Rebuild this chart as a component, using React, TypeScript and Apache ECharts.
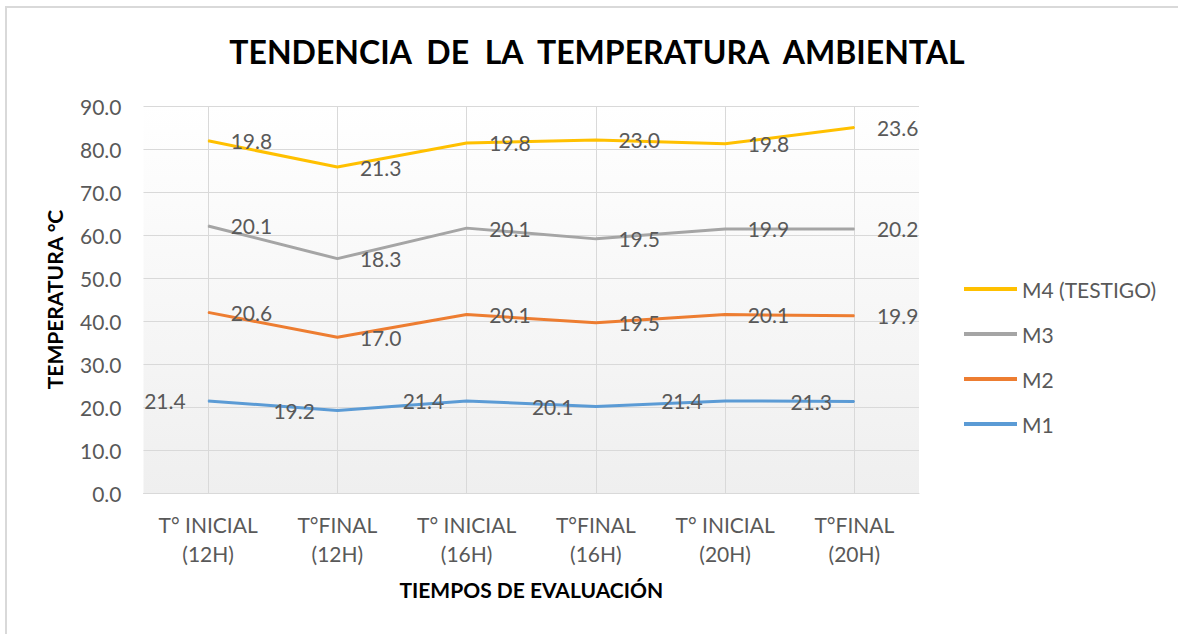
import React, { useEffect, useRef } from "react";
import * as echarts from "echarts";

const categories = [
  "T° INICIAL\n(12H)",
  "T°FINAL\n(12H)",
  "T° INICIAL\n(16H)",
  "T°FINAL\n(16H)",
  "T° INICIAL\n(20H)",
  "T°FINAL\n(20H)",
];
const seriesNames = ["M1", "M2", "M3", "M4 (TESTIGO)"];
const m1 = [21.4, 19.2, 21.4, 20.1, 21.4, 21.3];
const m2 = [20.6, 17.0, 20.1, 19.5, 20.1, 19.9];
const m3 = [20.1, 18.3, 20.1, 19.5, 19.9, 20.2];
const m4 = [19.8, 21.3, 19.8, 23.0, 19.8, 23.6];
const colors = ["#5B9BD5", "#ED7D31", "#A5A5A5", "#FFC000"];
const legendOrder = ["M4 (TESTIGO)", "M3", "M2", "M1"];
const yMin = 0;
const yMax = 90;
const yStep = 10;

const FONT = "Lato";
const GRAY = "#595959";

export default function App() {
  const ref = useRef<HTMLDivElement>(null);
  useEffect(() => {
    if (!ref.current) return;
    const chart = echarts.init(ref.current, null, { renderer: "svg" });
    const values = [m1, m2, m3, m4];
    const series = values.map((v, i) => ({
      name: seriesNames[i],
      type: "line",
      stack: "total",
      data: v,
      symbol: "circle",
      symbolSize: 1,
      showSymbol: true,
      lineStyle: { width: 3, color: colors[i] },
      itemStyle: { color: colors[i] },
      emphasis: { disabled: true },
      label: {
        show: true,
        position: i === 0 ? "left" : "right",
        distance: 22,
        color: GRAY,
        fontFamily: FONT,
        fontSize: 21,
        formatter: (p: any) => Number(p.value).toFixed(1),
      },
      z: 3,
    }));
    chart.setOption({
      animation: false,
      color: colors,
      textStyle: { fontFamily: FONT },
      title: {
        text: "TENDENCIA  DE  LA  TEMPERATURA  AMBIENTAL",
        left: 592,
        textAlign: "center",
        top: 30,
        textStyle: { fontFamily: FONT, fontWeight: "bold", fontSize: 32, color: "#000" },
      },
      graphic: [
        {
          type: "rect",
          shape: { x: 6, y: 7, width: 1300, height: 800 },
          style: { fill: "none", stroke: "#d9d9d9", lineWidth: 2 },
          silent: true,
          z: -10,
        },
      ],
      legend: {
        data: legendOrder,
        orient: "vertical",
        left: 959,
        top: 273,
        icon: "rect",
        itemWidth: 53,
        itemHeight: 4,
        itemGap: 23,
        textStyle: { color: GRAY, fontFamily: FONT, fontSize: 21, lineHeight: 22 },
      },
      grid: {
        left: 143.5,
        right: 259,
        top: 106,
        bottom: 141,
        show: true,
        borderWidth: 0,
        backgroundColor: {
          type: "linear",
          x: 0,
          y: 0,
          x2: 0,
          y2: 1,
          colorStops: [
            { offset: 0, color: "#ffffff" },
            { offset: 1, color: "#efefef" },
          ],
        },
      },
      xAxis: {
        type: "category",
        data: categories,
        boundaryGap: true,
        name: "TIEMPOS DE EVALUACIÓN",
        nameLocation: "middle",
        nameGap: 86,
        nameTextStyle: { fontFamily: FONT, fontWeight: "bold", fontSize: 21, color: "#000" },
        axisLine: { show: true, lineStyle: { color: "#d9d9d9", width: 1 } },
        axisTick: {
          show: true,
          alignWithLabel: true,
          inside: true,
          length: 387,
          lineStyle: { color: "#d9d9d9", width: 1 },
        },
        splitLine: { show: false },
        axisLabel: {
          color: GRAY,
          fontFamily: FONT,
          fontSize: 21,
          lineHeight: 29,
          margin: 17,
          interval: 0,
        },
      },
      yAxis: {
        type: "value",
        min: yMin,
        max: yMax,
        interval: yStep,
        name: "TEMPERATURA °C",
        nameLocation: "middle",
        nameRotate: 90,
        nameGap: 79,
        nameTextStyle: { fontFamily: FONT, fontWeight: "bold", fontSize: 21, color: "#000" },
        axisLine: { show: false },
        axisTick: { show: false },
        splitLine: { show: true, lineStyle: { color: "#d9d9d9", width: 1 } },
        axisLabel: {
          color: GRAY,
          fontFamily: FONT,
          fontSize: 21,
          margin: 22,
          formatter: (v: number) => v.toFixed(1),
        },
      },
      series,
    });
    return () => chart.dispose();
  }, []);
  return (
    <div
      ref={ref}
      style={{ position: "fixed", left: 0, top: 0, width: 1178, height: 634, background: "#fff" }}
    />
  );
}
